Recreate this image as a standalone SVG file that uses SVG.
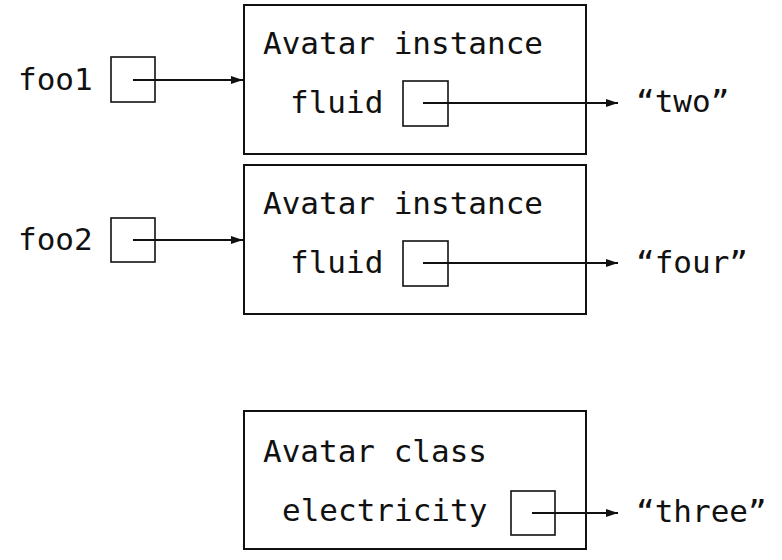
<svg xmlns="http://www.w3.org/2000/svg" width="782" height="560" viewBox="0 0 782 560">
<style>
text{font-family:"DejaVu Sans Mono","Liberation Mono",monospace;font-size:31px;fill:#111}
.big{fill:#fff;stroke:#111;stroke-width:2}
.cell{fill:none;stroke:#111;stroke-width:1.6}
.conn{stroke:#111;stroke-width:1.8;fill:none;marker-end:url(#ah)}
</style>
<defs>
<marker id="ah" markerUnits="userSpaceOnUse" markerWidth="13" markerHeight="9" refX="12" refY="4" orient="auto">
<path d="M0,0 L12,4 L0,8 z" fill="#111"/>
</marker>
</defs>
<rect width="782" height="560" fill="#fff"/>
<g id="foo1">
<text x="18" y="90">foo1</text>
<rect class="cell" x="111" y="57" width="44" height="45"/>
</g>
<g id="foo2">
<text x="18" y="250">foo2</text>
<rect class="cell" x="111" y="218" width="44" height="44"/>
</g>
<g id="instance1">
<rect class="big" x="244" y="5" width="342" height="149"/>
<text x="263" y="54">Avatar instance</text>
<text x="290" y="113">fluid</text>
<rect class="cell" x="403" y="81" width="45" height="45"/>
</g>
<g id="instance2">
<rect class="big" x="244" y="165" width="342" height="149"/>
<text x="263" y="214">Avatar instance</text>
<text x="290" y="273">fluid</text>
<rect class="cell" x="403" y="241" width="45" height="45"/>
</g>
<g id="class">
<rect class="big" x="244" y="411" width="342" height="138"/>
<text x="263" y="462">Avatar class</text>
<text x="282" y="521">electricity</text>
<rect class="cell" x="511" y="491" width="44" height="44"/>
</g>
<g id="two"><text x="636" y="112">“two”</text></g>
<g id="four"><text x="636" y="273">“four”</text></g>
<g id="three"><text x="636" y="522">“three”</text></g>
<g id="connectors">
<line class="conn" x1="133" y1="80" x2="243" y2="80"/>
<line class="conn" x1="423" y1="103" x2="618" y2="103"/>
<line class="conn" x1="133" y1="240" x2="243" y2="240"/>
<line class="conn" x1="423" y1="263" x2="618" y2="263"/>
<line class="conn" x1="532" y1="513" x2="618" y2="513"/>
</g>
</svg>
